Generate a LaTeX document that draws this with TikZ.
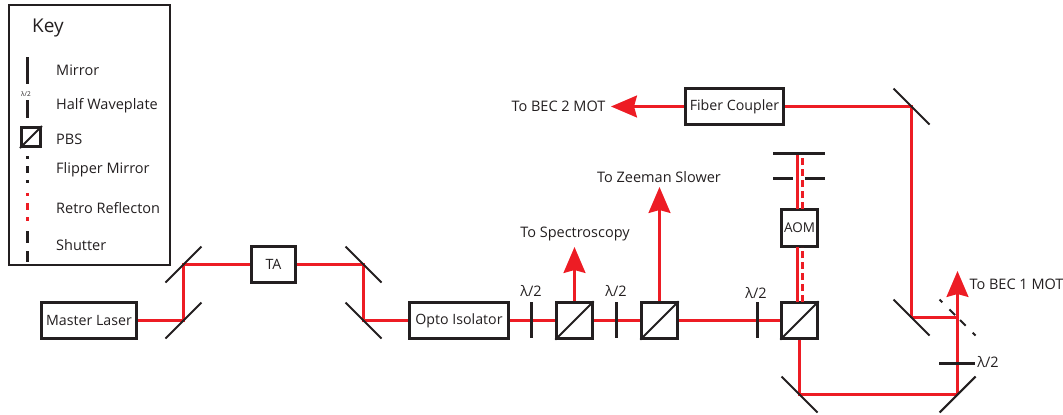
\documentclass[tikz,border=0pt]{standalone}
\usepackage{fontspec}
\setmainfont{Open Sans}
\usetikzlibrary{arrows.meta}
\definecolor{bmred}{HTML}{ED1C24}
\definecolor{bmink}{HTML}{231F20}
\tikzset{
  optic/.style={bmink,line width=2.1pt},
  flipline/.style={optic,dash pattern=on 4pt off 10pt on 8pt off 7pt on 8pt off 10pt on 4pt off 10pt},
  keydash/.style={optic,dash pattern=on 3pt off 7pt on 7pt off 7pt on 4pt off 7pt},
  beam/.style={bmred,line width=2.2pt},
  retro/.style={beam,dash pattern=on 7pt off 4pt},
  outbeam/.style={beam,-{Stealth[length=26pt,width=22pt,inset=3pt]}},
  devbox/.style={draw=bmink,line width=2.3pt,fill=white,inner sep=0pt,text=bmink,font=\fontsize{14.2}{16}\selectfont},
  pbsbox/.style={devbox,minimum width=36pt,minimum height=36pt},
  lab/.style={text=bmink,font=\fontsize{14.5}{16}\selectfont,inner sep=0pt},
  keylab/.style={lab,anchor=west},
}
\begin{document}
\begin{tikzpicture}[x=1pt,y=-1pt]
  \useasboundingbox (0,0) rectangle (1063,415);
  % key
  \node[draw=bmink,line width=1.1pt,minimum width=161pt,minimum height=260pt,inner sep=0pt] (keybox) at (89.5,135) {};
  \node[lab,font=\fontsize{19}{21}\selectfont] (keytitle) at (48,28) {Key};
  \foreach \n/\y/\t in {mir/70/Mirror,hwp/106/Half Waveplate,pbs/139/PBS,flip/170/Flipper Mirror,ret/208/Retro Reflecton,shut/245/Shutter}{
    \node[keylab] (key\n) at (56,\y) {\t};
  }
  \draw[optic] (27.5,57) -- (27.5,84);
  \node[lab,font=\fontsize{6.5}{7}\selectfont] (keywave) at (26,94) {λ/2};
  \draw[optic] (27.5,100) -- (27.5,118);
  \node[draw=bmink,line width=3pt,minimum width=19pt,minimum height=19pt,inner sep=0pt] (keycube) at (31,137) {};
  \draw[optic] (keycube.south west) -- (keycube.north east);
  \draw[keydash] (27.5,156) -- (27.5,183);
  \draw[keydash,bmred] (27.5,193) -- (27.5,222);
  \draw[optic] (27.5,231) -- (27.5,243) (27.5,251) -- (27.5,262);
  % boxes
  \node[devbox,minimum width=95pt,minimum height=36pt] (master) at (89,320.5) {Master Laser};
  \node[devbox,minimum width=44pt,minimum height=36pt] (ta) at (273.5,264.5) {TA};
  \node[devbox,minimum width=99pt,minimum height=36pt] (isolator) at (459,320.5) {Opto Isolator};
  \node[devbox,minimum width=98pt,minimum height=36pt] (coupler) at (734.5,106.5) {Fiber Coupler};
  \node[devbox,minimum width=36pt,minimum height=37pt,font=\fontsize{13.5}{15}\selectfont] (aom) at (799.5,228) {AOM};
  \foreach \n/\x in {pbsa/574.5,pbsb/659.5,pbsc/799.5}{
    \node[pbsbox] (\n) at (\x,320.5) {};
  }
  % mirrors
  \foreach \n/\x/\y in {mira/183.5/320.5,mirb/183.5/264.5,mirc/363.5/264.5,mird/363.5/320.5,mire/799.5/394.5,mirf/957.5/394.5,mirg/911.5/317.5,mirh/911.5/106.5,flipm/957.5/317.5}{
    \coordinate (\n) at (\x,\y);
  }
  \coordinate (tipspec) at (574.5,247);
  \coordinate (tipzee) at (659.5,187);
  \coordinate (tiptwo) at (611,106.5);
  \coordinate (tipone) at (957.5,271);
  \coordinate (retend) at (797.5,153);
  \coordinate (dashend) at (802.5,156);
  % beams
  \draw[beam] (master.east) -- (mira) -- (mirb) -- (ta.west);
  \draw[beam] (ta.east) -- (mirc) -- (mird) -- (isolator.west);
  \draw[beam] (isolator.east) -- (pbsa.west);
  \draw[beam] (pbsa.east) -- (pbsb.west);
  \draw[beam] (pbsb.east) -- (pbsc.west);
  \draw[outbeam] (pbsa.north) -- (tipspec);
  \draw[outbeam] (pbsb.north) -- (tipzee);
  \draw[beam] (797.5,302) -- (797.5,247) (797.5,209) -- (retend);
  \draw[retro] (802.5,302) -- (802.5,247) (802.5,209) -- (dashend);
  \draw[beam] (pbsc.south) -- (mire) -- (mirf);
  \draw[outbeam] (mirf) -- (tipone);
  \draw[beam] (mirg) -- (flipm);
  \draw[beam] (mirg) -- (mirh) -- (coupler.east);
  \draw[outbeam] (coupler.west) -- (tiptwo);
  % optics
  \foreach \n/\s in {mira/-1,mirb/-1,mirc/1,mird/1,mire/1,mirf/-1,mirg/1,mirh/1}{
    \draw[optic] ([shift={(-18pt,18pt*\s)}]\n) -- ([shift={(18pt,-18pt*\s)}]\n);
  }
  \draw[flipline] (939.5,299.5) -- (975.5,335.5);
  \foreach \n in {pbsa,pbsb,pbsc}{
    \draw[optic] (\n.south west) -- (\n.north east);
  }
  \foreach \x in {531.5,616.5,757.5}{
    \draw[optic] (\x,302) -- (\x,338);
  }
  \draw[optic] (939,363.5) -- (975,363.5);
  \draw[optic] (773,153.5) -- (825,153.5);
  \draw[optic] (773,178.5) -- (793,178.5) (805,178.5) -- (825,178.5);
  % labels
  \node[lab] (wavea) at (531,291) {λ/2};
  \node[lab] (waveb) at (616,291) {λ/2};
  \node[lab] (wavec) at (756,293) {λ/2};
  \node[lab] (waved) at (988,362) {λ/2};
  \node[lab] (lspec) at (575,234) {To Spectroscopy};
  \node[lab] (lzee) at (659,177) {To Zeeman Slower};
  \node[lab] (ltwo) at (558.5,106) {To BEC 2 MOT};
  \node[lab] (lone) at (1016.5,284) {To BEC 1 MOT};
\end{tikzpicture}
\end{document}
